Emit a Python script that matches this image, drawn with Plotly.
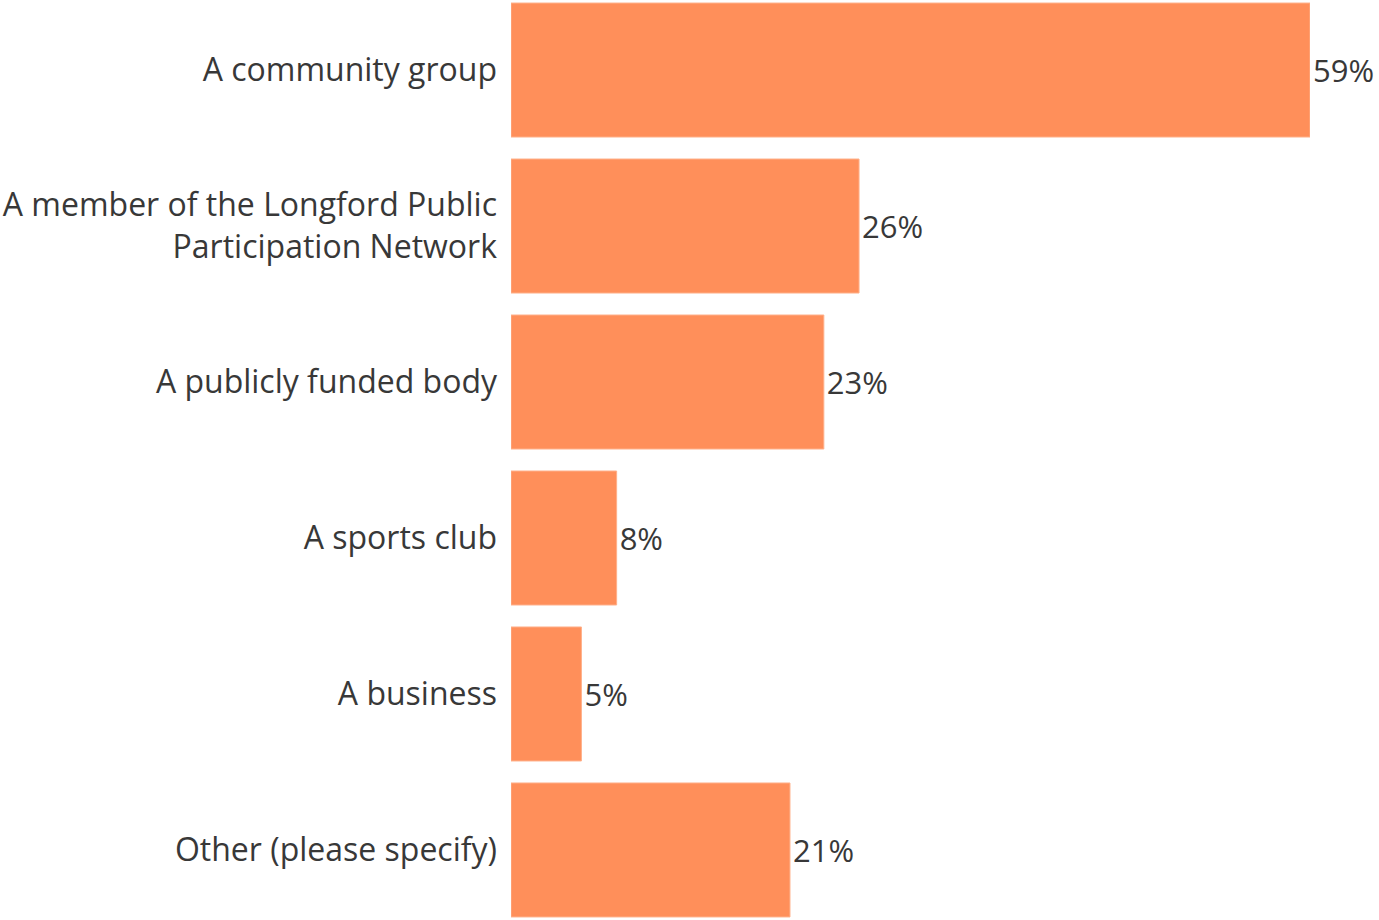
import plotly.graph_objects as go

categories = [
    "A community group",
    "A member of the Longford Public<br>Participation Network",
    "A publicly funded body",
    "A sports club",
    "A business",
    "Other (please specify)",
]
values = [59, 25.7, 23.1, 7.8, 5.2, 20.6]
labels = ["59%", "26%", "23%", "8%", "5%", "21%"]

fig = go.Figure(
    go.Bar(
        y=categories,
        x=values,
        orientation="h",
        text=labels,
        textposition="outside",
        cliponaxis=False,
        marker=dict(color="#FF8F5A", line=dict(color="#FFB08A", width=1)),
        textfont=dict(family="Open Sans", size=31, color="#383838"),
        hoverinfo="skip",
    )
)

fig.update_layout(
    width=1379,
    height=920,
    margin=dict(l=511, r=69, t=0, b=0, autoexpand=False),
    paper_bgcolor="white",
    plot_bgcolor="white",
    bargap=0.141,
    showlegend=False,
    font=dict(family="Open Sans", color="#383838"),
    xaxis=dict(range=[0, 59], visible=False, showgrid=False, zeroline=False),
    yaxis=dict(
        range=[5.449, -0.449],
        showgrid=False,
        zeroline=False,
        showline=False,
        ticks="",
        ticklabelstandoff=13,
        tickfont=dict(family="Open Sans", size=32, color="#383838"),
        automargin=False,
    ),
)

fig.write_html(
    "out.html",
    config={"displayModeBar": False},
    post_script="document.body.style.margin='0';document.body.style.overflow='hidden';",
)
